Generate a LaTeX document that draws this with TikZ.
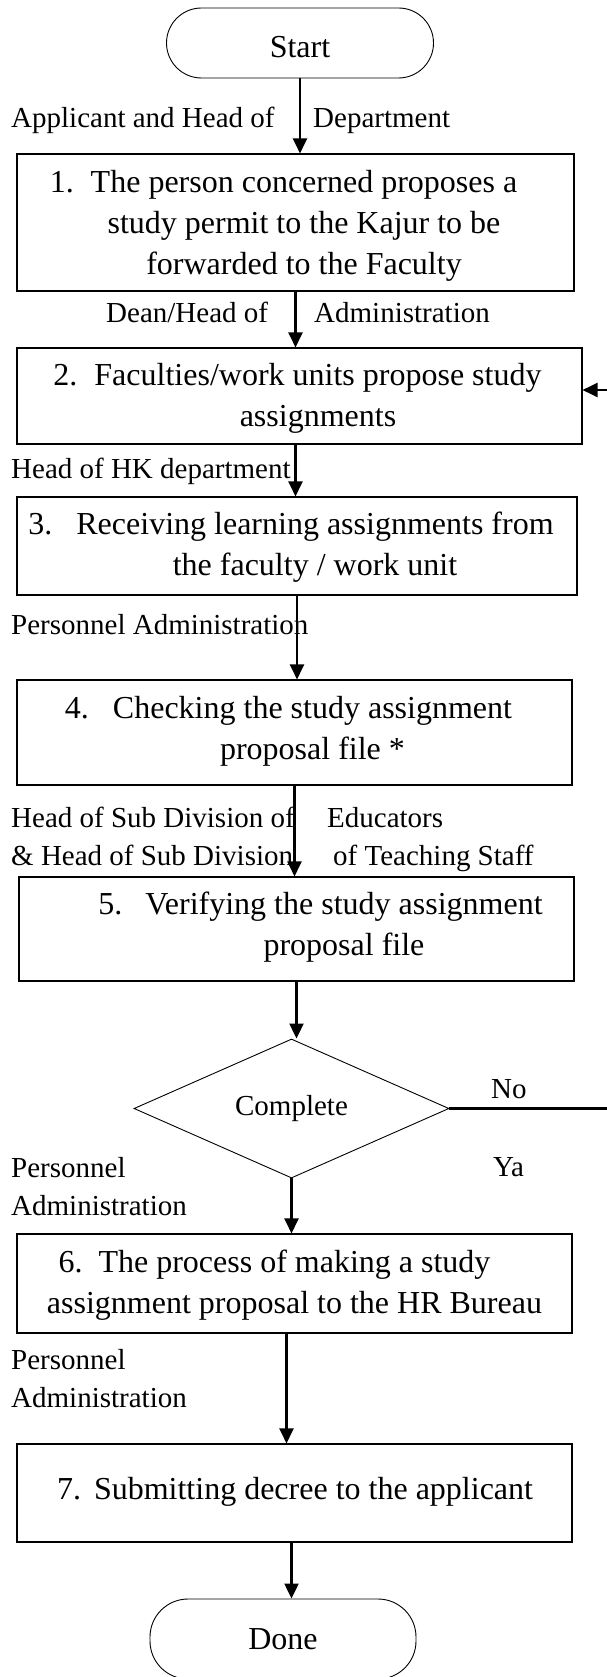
\documentclass[tikz,border=0pt]{standalone}
\usepackage{fontspec}
\setmainfont{Liberation Serif}
\usetikzlibrary{arrows.meta,shapes.geometric}

\begin{document}
\begin{tikzpicture}[x=1pt,y=-1pt,
    term/.style={draw,line width=.9pt,inner sep=0pt,font=\fontsize{32}{41}\selectfont},
    stepbox/.style={draw,line width=1.1pt,inner sep=0pt},
    boxtext/.style={align=center,inner sep=0pt,font=\fontsize{32}{41}\selectfont},
    lane/.style={align=left,inner sep=0pt,font=\fontsize{29}{38}\selectfont},
    decide/.style={draw,diamond,line width=.9pt,inner sep=0pt,font=\fontsize{29}{38}\selectfont},
    flow/.style={line width=2.2pt,-{Triangle[length=15pt,width=14pt]}}]
  \useasboundingbox (0,0) rectangle (607,1677);
  \clip (0,0) rectangle (607,1677);
   \coordinate (loopx) at (640,0);
  % terminals, steps and the check
  \node[term,rounded corners=35pt,minimum width=267pt,minimum height=70pt,text height=30pt,text depth=0pt] (start) at (300,43) {Start};
  \node[stepbox,minimum width=557pt,minimum height=137pt] (b1) at (295.5,222.5) {};
  \node[stepbox,minimum width=565pt,minimum height=96pt] (b2) at (299.5,396) {};
  \node[stepbox,minimum width=560pt,minimum height=98pt] (b3) at (297,546) {};
  \node[stepbox,minimum width=555pt,minimum height=105pt] (b4) at (294.5,732.5) {};
  \node[stepbox,minimum width=555pt,minimum height=104pt] (b5) at (296.5,929) {};
  \node[decide,minimum width=315pt,minimum height=125pt] (chk) at (291.5,1108.5) {Complete};
  \node[stepbox,minimum width=555pt,minimum height=99pt] (b6) at (294.5,1283.5) {};
  \node[stepbox,minimum width=555pt,minimum height=98pt] (b7) at (294.5,1493) {};
  \node[term,rounded corners=38pt,minimum width=266pt,minimum height=80pt] (done) at (283,1639) {Done};
  % texts of the steps
  \node[boxtext] (t1) at (304,226) {\llap{1.\hspace{17pt}}The person concerned proposes a\\study permit to the Kajur to be\\forwarded to the Faculty};
  \node[boxtext] (t2) at (318,398.5) {\llap{2.\hspace{17pt}}Faculties/work units propose study\\assignments};
  \node[boxtext] (t3) at (315,547) {\llap{3.\hspace{24pt}}Receiving learning assignments from\\the faculty / work unit};
  \node[boxtext] (t4) at (312.5,731) {\llap{4.\hspace{24pt}}Checking the study assignment\\proposal file *};
  \node[boxtext] (t5) at (344,927.5) {\llap{5.\hspace{23pt}}Verifying the study assignment\\proposal file};
  \node[boxtext] (t6) at (294.5,1285) {\llap{6.\hspace{16pt}}The process of making a study\\assignment proposal to the HR Bureau};
  \node[boxtext] (t7) at (313.5,1492) {\llap{7.\hspace{13pt}}Submitting decree to the applicant};
  % who does it
  \node[lane,anchor=base west] (w1a) at (11,128) {Applicant and Head of};
  \node[lane,anchor=base west] (w1b) at (313,128) {Department};
  \node[lane,anchor=base west] (w2a) at (106,323) {Dean/Head of};
  \node[lane,anchor=base west] (w2b) at (314,323) {Administration};
  \node[lane,anchor=base west] (w3) at (11,478) {Head of HK department};
  \node[lane,anchor=base west] (w4) at (11,634) {Personnel Administration};
  \node[lane,anchor=north west] (w5a) at (11,807) {Head of Sub Division of\\\& Head of Sub Division};
  \node[lane,anchor=north west] (w5b) at (327,807) {Educators\\\hspace*{6pt}of Teaching Staff};
  \node[lane,anchor=north west] (w6) at (11,1157) {Personnel\\Administration};
  \node[lane,anchor=north west] (w7) at (11,1349) {Personnel\\Administration};
  \node[lane,anchor=base west] (no) at (491,1098) {No};
  \node[lane,anchor=base west] (ya) at (493,1176) {Ya};
  % connectors
  \draw[flow] (start.south) -- (start.south |- b1.north);
  \draw[flow] (b1.south) -- (b1.south |- b2.north);
  \draw[flow] ([xshift=-4pt]b2.south) -- ([xshift=-4pt]b2.south |- b3.north);
  \draw[flow] (b3.south) -- (b3.south |- b4.north);
  \draw[flow] (b4.south) -- (b4.south |- b5.north);
  \draw[flow] (b5.south) -- (b5.south |- chk.north);
  \draw[flow] (chk.south) -- (chk.south |- b6.north);
  \draw[flow] ([xshift=-8pt]b6.south) -- ([xshift=-8pt]b6.south |- b7.north);
  \draw[flow] ([xshift=-3pt]b7.south) -- ([xshift=-3pt]b7.south |- done.north);
  \draw[flow] (chk.east) -- (chk.east -| loopx) -- ([yshift=6pt]b2.east -| loopx) -- ([yshift=6pt]b2.east);
\end{tikzpicture}
\end{document}
